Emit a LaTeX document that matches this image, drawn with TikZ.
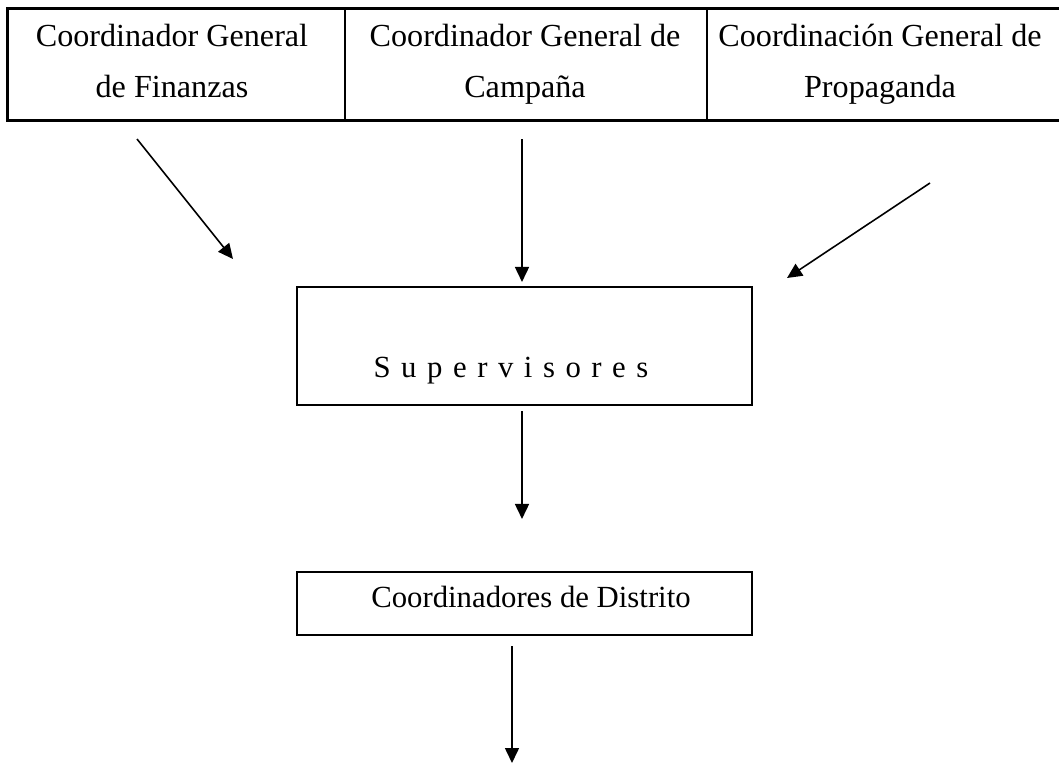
\documentclass[tikz,border=0pt]{standalone}
\usepackage{fontspec}
\setmainfont{Liberation Serif}
\usetikzlibrary{arrows.meta,positioning}

\begin{document}
\begin{tikzpicture}[
		x=0.02cm,y=-0.02cm,
		cell/.style={draw,rectangle,line width=0.6pt,minimum height=2.22cm,inner sep=0pt},
		box/.style={draw,rectangle,line width=1.2pt,minimum width=9.1cm,inner sep=0pt},
		txt/.style={align=center,font=\fontsize{17.5}{28}\selectfont,inner sep=0pt},
		head/.style={txt,font=\fontsize{18.3}{28.5}\selectfont,anchor=base},
		flow/.style={-{Triangle[length=0.3cm,width=0.28cm]},line width=0.9pt}
		]
		\useasboundingbox (0,0) rectangle (1059,764);
		
		% Coordinaciones generales (fila superior)
		\node[cell,minimum width=6.74cm] (fin) at (176.5,64.5) {};
		\node[cell,minimum width=7.24cm] (camp) at (526,64.5) {};
		\node[cell,minimum width=7.08cm] (prop) at (884,64.5) {};
		\draw[line width=1.2pt] (fin.north west) rectangle (prop.south east);
		
		\node[head] (tfin) at (172,97) {Coordinador General\\de Finanzas};
		\node[head] (tcamp) at (525,97) {Coordinador General de\\Campaña};
		\node[head] (tprop) at (880,97) {Coordinación General de\\Propaganda};
		
		% Supervisores
		\node[box,minimum height=2.36cm] (sup) at (524.5,346) {};
		\node[txt] (tsup) at (511,371) {\spaceskip=6pt S u p e r v i s o r e s};
		
		% Coordinadores de Distrito
		\node[box,minimum height=1.26cm] (dist) at (524.5,603.5) {};
		\node[txt] (tdist) at (531,597) {Coordinadores de Distrito};
		
		% Conexiones
		\coordinate (f1) at (137,139);
		\coordinate (f2) at (233,259);
		\coordinate (c1) at (522,139);
		\coordinate (p1) at (930,183);
		\coordinate (p2) at (787,278);
		\coordinate (d1) at (512,763);
		
		\draw[flow] (f1) -- (f2);
		\draw[flow,shorten >=0.08cm] (c1) -- (c1 |- sup.north);
		\draw[flow] (p1) -- (p2);
		\draw[flow,shorten <=0.1cm,shorten >=1.04cm] ([xshift=-0.05cm]sup.south) -- ([xshift=-0.05cm]sup.south |- dist.north);
		\draw[flow,shorten <=0.2cm] ([xshift=-0.25cm]dist.south) -- (d1);
		
	\end{tikzpicture}
\end{document}
